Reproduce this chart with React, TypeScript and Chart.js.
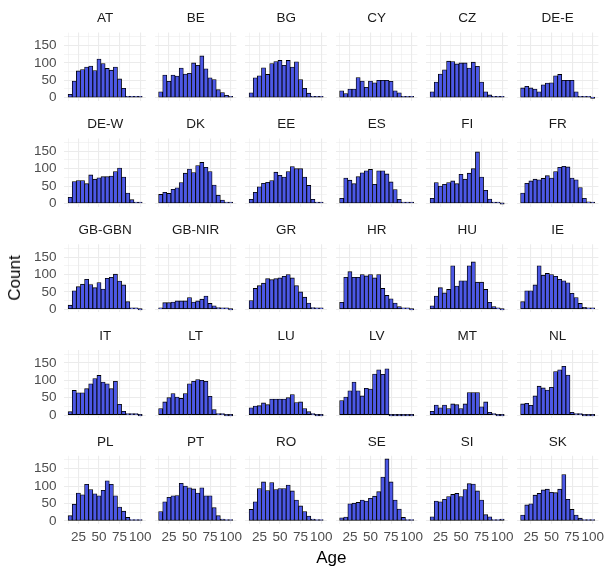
import React, { useEffect, useRef } from "react";
import { Chart, registerables } from "chart.js";

Chart.register(...registerables);

const FONT = "'Liberation Sans', Arial, Helvetica, sans-serif";
Chart.defaults.font.family = FONT;

// 5-year age bands, given by their centres
const AGE_BINS = [15, 20, 25, 30, 35, 40, 45, 50, 55, 60, 65, 70, 75, 80, 85, 90, 95, 100];
const BIN_WIDTH = 5;
const X_TICKS = [25, 50, 75, 100];
const Y_TICKS = [0, 50, 100, 150];

const COUNTRIES = [
  "AT", "BE", "BG", "CY", "CZ", "DE-E",
  "DE-W", "DK", "EE", "ES", "FI", "FR",
  "GB-GBN", "GB-NIR", "GR", "HR", "HU", "IE",
  "IT", "LT", "LU", "LV", "MT", "NL",
  "PL", "PT", "RO", "SE", "SI", "SK",
];

// Respondents per age band
const AT = [10, 48, 77, 81, 88, 91, 78, 111, 98, 84, 79, 88, 54, 27, 4, 3, 2, 1];
const BE = [17, 65, 47, 65, 62, 85, 68, 70, 100, 93, 120, 83, 57, 52, 23, 15, 7, 2];
const BG = [14, 57, 63, 86, 67, 98, 104, 107, 93, 107, 88, 103, 52, 27, 13, 3, 1, 1];
const CY = [20, 12, 25, 25, 58, 48, 30, 48, 43, 50, 50, 50, 47, 20, 14, 4, 1, 1];
const CZ = [17, 45, 68, 80, 105, 104, 97, 100, 100, 85, 102, 90, 45, 17, 8, 2, 1, 1];
const DE_E = [28, 33, 28, 25, 17, 37, 42, 43, 63, 67, 50, 50, 50, 17, 3, 3, 2, 0];
const DE_W = [18, 63, 66, 66, 57, 82, 70, 74, 77, 77, 79, 92, 102, 76, 30, 11, 2, 1];
const DK = [26, 32, 29, 41, 45, 60, 87, 99, 89, 109, 118, 104, 92, 53, 24, 10, 2, 1];
const EE = [12, 32, 48, 58, 61, 66, 90, 81, 76, 92, 106, 100, 100, 76, 52, 12, 2, 1];
const ES = [15, 73, 67, 57, 77, 88, 94, 98, 55, 94, 94, 85, 62, 40, 12, 4, 1, 1];
const FI = [15, 60, 50, 55, 60, 65, 57, 84, 70, 87, 100, 148, 76, 38, 13, 4, 1, 0];
const FR = [30, 58, 65, 70, 68, 72, 80, 73, 92, 104, 107, 105, 73, 68, 46, 15, 5, 1];
const GB_GBN = [12, 53, 65, 72, 86, 71, 62, 77, 58, 89, 92, 101, 81, 70, 22, 2, 1, 0];
const GB_NIR = [3, 19, 19, 21, 24, 24, 24, 34, 21, 24, 29, 38, 17, 10, 5, 2, 1, 0];
const GR = [25, 60, 68, 75, 88, 85, 88, 90, 95, 100, 90, 68, 50, 35, 18, 5, 2, 1];
const HR = [20, 92, 108, 92, 92, 100, 96, 100, 90, 100, 60, 40, 30, 18, 8, 2, 1, 0];
const HU = [10, 38, 62, 47, 57, 125, 67, 82, 82, 125, 136, 78, 78, 57, 20, 8, 3, 0];
const IE = [22, 53, 53, 70, 125, 98, 103, 100, 95, 86, 82, 76, 46, 34, 17, 6, 2, 1];
const IT = [10, 71, 64, 64, 76, 90, 105, 114, 95, 90, 76, 97, 31, 11, 4, 2, 1, 0];
const LT = [19, 38, 50, 62, 52, 48, 62, 90, 97, 102, 100, 97, 54, 16, 3, 1, 0, 0];
const LU = [21, 26, 27, 35, 30, 46, 46, 46, 46, 50, 59, 36, 38, 19, 10, 2, 0, 0];
const LV = [42, 52, 70, 95, 70, 55, 77, 75, 118, 130, 117, 133, 0, 0, 0, 0, 0, 0];
const MT = [11, 29, 21, 29, 19, 32, 30, 19, 32, 65, 65, 65, 24, 38, 8, 3, 0, 0];
const NL = [32, 34, 28, 55, 83, 78, 72, 80, 125, 130, 140, 115, 8, 3, 1, 0, 0, 0];
const PL = [15, 48, 80, 75, 105, 90, 78, 72, 88, 115, 105, 72, 40, 28, 10, 2, 1, 1];
const PT = [27, 55, 68, 72, 73, 108, 100, 95, 92, 80, 95, 72, 72, 38, 15, 5, 2, 1];
const RO = [33, 55, 93, 112, 87, 110, 90, 93, 93, 103, 86, 60, 43, 27, 14, 5, 2, 1];
const SE = [9, 11, 49, 51, 53, 60, 57, 65, 71, 84, 126, 178, 112, 60, 34, 10, 3, 1];
const SI = [12, 57, 55, 62, 70, 76, 79, 70, 90, 107, 106, 86, 60, 18, 12, 3, 2, 5];
const SK = [17, 46, 49, 74, 79, 89, 91, 82, 81, 91, 133, 62, 33, 17, 8, 2, 1, 1];

const COUNTS = [
  AT, BE, BG, CY, CZ, DE_E,
  DE_W, DK, EE, ES, FI, FR,
  GB_GBN, GB_NIR, GR, HR, HU, IE,
  IT, LT, LU, LV, MT, NL,
  PL, PT, RO, SE, SI, SK,
];

// Facet grid geometry
const NCOL = 6;
const NROW = 5;
const PANEL_X0 = 64.4;
const PANEL_DX = 90.5;
const PANEL_W = 81.5;
const PANEL_Y0 = 32.6;
const PANEL_DY = 105.8;
const PANEL_H = 68.2;
const STRIP_H = 22;
const Y_AXIS_W = 64;
const X_AXIS_H = 24;

const FILL = "rgb(76, 88, 230)";
const GRID = "#EBEBEB";
const TICK_COLOR = "#4D4D4D";
const STRIP_COLOR = "#1A1A1A";

// Shared scale limits, padded by 5% on each side
const binLo = AGE_BINS[0] - BIN_WIDTH / 2;
const binHi = AGE_BINS[AGE_BINS.length - 1] + BIN_WIDTH / 2;
const X_MIN = binLo - 0.05 * (binHi - binLo);
const X_MAX = binHi + 0.05 * (binHi - binLo);
const countMax = Math.max(...COUNTS.flat());
const Y_MIN = -0.05 * countMax;
const Y_MAX = 1.05 * countMax;

const xGrid = X_TICKS.flatMap((v) => [v - 12.5, v]);
const yGrid = Y_TICKS.flatMap((v) => [v, v + 25]).filter((v) => v <= Y_MAX);

type PanelProps = { name: string; counts: number[]; row: number; col: number };

function Panel({ name, counts, row, col }: PanelProps) {
  const ref = useRef<HTMLCanvasElement | null>(null);
  const isLeft = col === 0;
  const isBottom = row === NROW - 1;

  const L = PANEL_X0 + PANEL_DX * col;
  const T = PANEL_Y0 + PANEL_DY * row;
  const yAxisW = isLeft ? Y_AXIS_W : 0;
  const xAxisH = isBottom ? X_AXIS_H : 0;

  const canvasLeft = Math.floor(L) - yAxisW;
  const padLeft = L - Math.floor(L);
  const canvasTop = Math.floor(T - STRIP_H);
  const padTop = T - STRIP_H - canvasTop;
  const canvasRight = Math.ceil(L + PANEL_W) + (isBottom ? 10 : 0);
  const padRight = canvasRight - (L + PANEL_W);
  const canvasBottom = Math.ceil(T + PANEL_H) + xAxisH;
  const padBottom = canvasBottom - (T + PANEL_H) - xAxisH;
  const w = canvasRight - canvasLeft;
  const h = canvasBottom - canvasTop;

  useEffect(() => {
    if (!ref.current) return;
    const chart = new Chart(ref.current, {
      type: "bar",
      data: {
        datasets: [
          {
            data: AGE_BINS.map((x, i) => ({ x, y: counts[i] })),
            backgroundColor: FILL,
            borderColor: "#000000",
            borderWidth: 0.85,
            borderSkipped: false,
            barPercentage: 1,
            categoryPercentage: 1,
            minBarLength: 1.4,
          },
        ],
      },
      options: {
        animation: false,
        responsive: false,
        maintainAspectRatio: false,
        events: [],
        layout: { padding: { left: padLeft, top: padTop, right: padRight, bottom: padBottom } },
        plugins: {
          legend: { display: false },
          tooltip: { enabled: false },
          title: {
            display: true,
            text: name,
            color: STRIP_COLOR,
            fullSize: false,
            font: { family: FONT, size: 13.5, weight: "normal", lineHeight: 1.2 },
            padding: { top: 0, bottom: 5.8 },
          },
        },
        scales: {
          x: {
            type: "linear",
            min: X_MIN,
            max: X_MAX,
            offset: false,
            border: { display: false },
            grid: {
              color: GRID,
              offset: false,
              drawTicks: false,
              lineWidth: (ctx: any) => (X_TICKS.includes(ctx.tick?.value) ? 1.1 : 0.55),
            },
            ticks: {
              display: isBottom,
              color: TICK_COLOR,
              font: { family: FONT, size: 13.5, lineHeight: 1.2 },
              padding: 5,
              maxRotation: 0,
              autoSkip: false,
              callback: (v: any) => (X_TICKS.includes(Number(v)) ? String(v) : ""),
            },
            afterBuildTicks: (s: any) => {
              s.ticks = xGrid.map((value) => ({ value }));
            },
            afterFit: (s: any) => {
              s.height = xAxisH;
              s.paddingLeft = 0;
              s.paddingRight = 0;
            },
          },
          y: {
            type: "linear",
            min: Y_MIN,
            max: Y_MAX,
            border: { display: false },
            grid: {
              color: GRID,
              drawTicks: false,
              lineWidth: (ctx: any) => (Y_TICKS.includes(ctx.tick?.value) ? 1.1 : 0.55),
            },
            ticks: {
              display: isLeft,
              color: TICK_COLOR,
              font: { family: FONT, size: 13.5, lineHeight: 1.2 },
              padding: 8,
              autoSkip: false,
              callback: (v: any) => (Y_TICKS.includes(Number(v)) ? String(v) : ""),
            },
            afterBuildTicks: (s: any) => {
              s.ticks = yGrid.map((value) => ({ value }));
            },
            afterFit: (s: any) => {
              s.width = yAxisW;
              s.paddingTop = 0;
              s.paddingBottom = 0;
            },
          },
        },
      } as any,
    });
    return () => chart.destroy();
  }, []);

  return (
    <canvas
      ref={ref}
      width={w}
      height={h}
      style={{ position: "absolute", left: canvasLeft, top: canvasTop, width: w, height: h }}
    />
  );
}

export default function App() {
  const panelsRight = PANEL_X0 + PANEL_DX * (NCOL - 1) + PANEL_W;
  const panelsBottom = PANEL_Y0 + PANEL_DY * (NROW - 1) + PANEL_H;
  return (
    <div
      style={{
        position: "fixed",
        left: 0,
        top: 0,
        width: 607,
        height: 569,
        background: "#ffffff",
        overflow: "hidden",
        fontFamily: FONT,
      }}
    >
      {COUNTRIES.map((name, i) => (
        <Panel
          key={name}
          name={name}
          counts={COUNTS[i]}
          row={Math.floor(i / NCOL)}
          col={i % NCOL}
        />
      ))}
      <div
        style={{
          position: "absolute",
          left: (PANEL_X0 + panelsRight) / 2,
          top: 558,
          transform: "translate(-50%, -50%)",
          fontSize: 17,
          color: "#000",
          whiteSpace: "nowrap",
        }}
      >
        Age
      </div>
      <div
        style={{
          position: "absolute",
          left: 15,
          top: (PANEL_Y0 + panelsBottom) / 2,
          transform: "translate(-50%, -50%) rotate(-90deg)",
          fontSize: 17,
          color: "#000",
          whiteSpace: "nowrap",
        }}
      >
        Count
      </div>
    </div>
  );
}
